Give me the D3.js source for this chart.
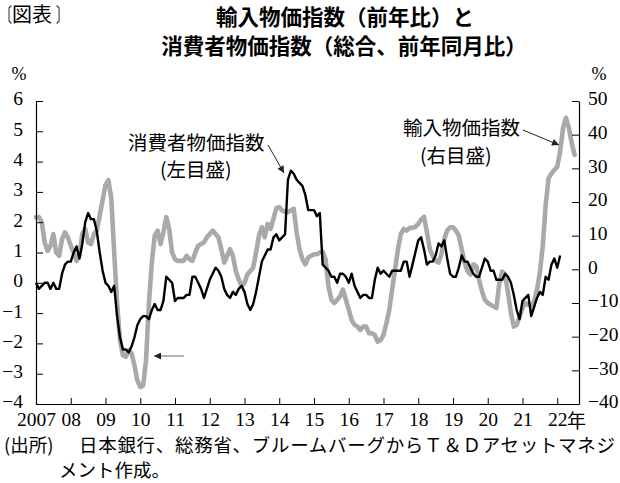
<!DOCTYPE html>
<html><head><meta charset="utf-8">
<script src="https://cdn.jsdelivr.net/npm/d3@7"></script>
<style>
body{margin:0;background:#fff;}
svg{display:block;}
.serif{font-family:"Liberation Serif","DejaVu Serif",serif;}
.jp{font-family:"Noto Sans CJK JP","Noto Sans",sans-serif;}
</style></head>
<body>
<svg id="chart" width="620" height="483"></svg>
<script>
// ---- data (monthly, first value = Jan 2007) ----
const startYear = 2007;
const cpiValues = [
  0.0,-0.2,-0.1,0.0,0.0,-0.2,0.0,-0.2,-0.2,0.3,0.6,0.7,
  0.7,1.0,1.2,0.8,1.3,2.0,2.3,2.1,2.1,1.7,1.0,0.4,
  0.0,-0.1,-0.3,-0.1,-1.1,-1.8,-2.2,-2.2,-2.3,-2.1,-1.8,-1.4,
  -1.2,-1.1,-1.1,-1.2,-0.9,-0.7,-0.9,-0.9,-0.6,0.2,0.1,0.0,
  -0.6,-0.5,-0.5,-0.5,-0.4,-0.4,0.2,0.2,0.0,-0.2,-0.5,-0.2,
  0.1,0.3,0.5,0.4,0.2,-0.2,-0.4,-0.5,-0.3,-0.4,-0.2,-0.1,
  -0.3,-0.7,-0.9,-0.7,-0.3,0.2,0.7,0.9,1.1,1.1,1.5,1.6,
  1.4,1.5,1.6,3.4,3.7,3.6,3.4,3.3,3.2,2.9,2.4,2.4,
  2.4,2.2,2.3,0.6,0.5,0.4,0.2,0.2,0.0,0.3,0.3,0.2,
  0.0,0.3,-0.1,-0.3,-0.5,-0.4,-0.4,-0.5,-0.5,0.1,0.5,0.3,
  0.4,0.3,0.2,0.4,0.4,0.4,0.4,0.7,0.7,0.2,0.6,1.0,
  1.4,1.5,1.1,0.6,0.7,0.7,0.9,1.3,1.2,1.4,0.8,0.3,
  0.2,0.2,0.5,0.9,0.7,0.7,0.5,0.3,0.2,0.2,0.5,0.8,
  0.7,0.4,0.4,0.1,0.1,0.1,0.3,0.2,0.0,-0.4,-0.9,-1.2,
  -0.6,-0.5,-0.4,-1.1,-0.8,-0.5,-0.3,-0.4,0.2,0.1,0.6,0.8,
  0.5,0.9
];
const importValues = [
  15.5,15.5,14,8,5.5,7,10.5,5,4,9,11,9.5,
  7,5,2.5,4,10.5,12,8,7.5,10.5,11.5,16,20.5,
  25,26.5,21,5,-10,-21,-25.5,-26,-24,-25,-28.5,-33,
  -35,-34.5,-27,-10,2,10,11.5,7.5,11,15.5,12,5,
  3,2.5,2.5,2.5,4,3,2.5,5,7,7.5,8,9.5,
  10.5,11.5,10.5,9.5,6,2,4,6,4,-0.5,-3,-5,
  -4,-1.5,-0.5,0.5,5,10,12.5,9.5,13.5,12,15,18.2,
  18.5,17.5,17,17,17.5,18,11,6,3,1.5,3.5,4,
  4.5,4.5,5,5.2,3,-5,-9,-10,-9,-8,-6,-9,
  -12,-15,-16.5,-17,-18,-17,-17,-19,-19,-19.5,-21.5,-21,
  -19.5,-16,-12,-6,0,6,10.5,12,11.5,12.3,12.3,12.6,
  13.5,14.8,15.6,11,6,4,2.5,2,4.5,9,11.5,12.5,
  12.5,11.5,10,6,2,-0.5,-1.5,1.5,1,-3,-6.5,-9,
  -10,-10.5,-11,-11.5,-4,-0.7,-1.5,-7,-13,-17,-16.5,-14,
  -11.5,-10,-10.5,-11,-9.5,-6,-1,7,19,27,28.5,29.5,
  30.5,35,42,45,42,37.5,34
];
const yearTicks = [2007,2008,2009,2010,2011,2012,2013,2014,2015,2016,2017,2018,2019,2020,2021,2022];
const leftTicks = [-4,-3,-2,-1,0,1,2,3,4,5,6];
const rightTicks = [-40,-30,-20,-10,0,10,20,30,40,50];

// ---- layout ----
const svg = d3.select("#chart");
const L = 36, R = 579, T = 101, B = 404;
const x = d3.scaleLinear().domain([2007, 2022.626]).range([L, R]);
const yL = d3.scaleLinear().domain([-4, 6]).range([B, T]);
const yR = d3.scaleLinear().domain([-40, 50]).range([B, T]);
const toT = i => startYear + i / 12;

// lines
const lineR = d3.line().x((d,i)=>x(toT(i))).y(d=>yR(d));
const lineL = d3.line().x((d,i)=>x(toT(i))).y(d=>yL(d));
svg.append("path").datum(importValues).attr("d", lineR)
  .attr("fill","none").attr("stroke","#a9a9a9").attr("stroke-width",4.6)
  .attr("stroke-linejoin","round").attr("stroke-linecap","round");
svg.append("path").datum(cpiValues).attr("d", lineL)
  .attr("fill","none").attr("stroke","#000").attr("stroke-width",2.4)
  .attr("stroke-linejoin","round");

// axes
const gL = svg.append("g").attr("transform",`translate(${L},0)`)
  .call(d3.axisLeft(yL).tickValues(leftTicks).tickSizeInner(-7).tickSizeOuter(0).tickPadding(13).tickFormat(d3.format("d")));
const gR = svg.append("g").attr("transform",`translate(${R},0)`)
  .call(d3.axisRight(yR).tickValues(rightTicks).tickSizeInner(-7).tickSizeOuter(0).tickPadding(9).tickFormat(d3.format("d")));
const gB = svg.append("g").attr("transform",`translate(0,${B})`)
  .call(d3.axisBottom(x).tickValues(yearTicks).tickSizeInner(-6).tickSizeOuter(0).tickPadding(8)
    .tickFormat(d => d === 2007 ? "2007" : String(d % 100).padStart(2,"0")));
[gL,gR,gB].forEach(g=>{
  g.selectAll("path.domain").attr("stroke","#000").attr("stroke-width",1.2);
  g.selectAll(".tick line").attr("stroke","#000").attr("stroke-width",1);
  g.selectAll("text").attr("class","serif").attr("font-size",19.5).attr("fill","#000");
});
gL.selectAll("text").attr("dy","0.2em");
gR.selectAll("text").attr("dy","0.2em");
gB.selectAll(".tick").filter(d=>d===2007).select("line").remove();

// text
const jp = (t, xx, yy, size, opts={}) => {
  const e = svg.append("text").attr("class","jp").attr("x",xx).attr("y",yy)
    .attr("font-size",size).attr("fill","#000").text(t);
  if (opts.anchor) e.attr("text-anchor",opts.anchor);
  if (opts.weight) e.attr("font-weight",opts.weight);
  if (opts.len) e.attr("textLength",opts.len).attr("lengthAdjust","spacing");
  return e;
};
// 〔図表〕: brackets narrowed horizontally so they sit tight as in the reference
svg.append("text").attr("class","jp").attr("font-size",20).attr("fill","#000")
  .attr("transform","translate(0,22) scale(0.6,1)").text("〔");
jp("図表", 12, 22, 20);
svg.append("text").attr("class","jp").attr("font-size",20).attr("fill","#000")
  .attr("transform","translate(56,22) scale(0.6,1)").text("〕");

jp("輸入物価指数（前年比）と", 345, 25, 21.5, {anchor:"middle", weight:"bold"});
jp("消費者物価指数（総合、前年同月比）", 344, 54, 21.5, {anchor:"middle", weight:"bold"});
jp("年", 567, 428, 19);
jp("(出所)", 4, 452, 18.5);
jp("日本銀行、総務省、ブルームバーグからＴ＆Ｄアセットマネジ", 79, 452, 18.5, {len: 536});
jp("メント作成。", 59, 477, 18.5);

svg.append("text").attr("class","serif").attr("x",19).attr("y",80).attr("font-size",18).attr("text-anchor","middle").text("%");
svg.append("text").attr("class","serif").attr("x",599).attr("y",80).attr("font-size",18).attr("text-anchor","middle").text("%");

jp("消費者物価指数", 128, 150, 19.5);
jp("(左目盛)", 160, 177, 19.5);
jp("輸入物価指数", 403, 135, 19.5);
jp("(右目盛)", 420, 163, 19.5);

// arrows
const defs = svg.append("defs");
defs.append("marker").attr("id","ah").attr("viewBox","0 0 10 10").attr("refX",10).attr("refY",5)
  .attr("markerWidth",9).attr("markerHeight",7).attr("markerUnits","userSpaceOnUse").attr("orient","auto")
  .append("path").attr("d","M0,0 L10,5 L0,10 z").attr("fill","#222");
const arrow = (x1,y1,x2,y2,col) => svg.append("line").attr("x1",x1).attr("y1",y1).attr("x2",x2).attr("y2",y2)
  .attr("stroke",col).attr("stroke-width",1).attr("marker-end","url(#ah)");
arrow(268,145,284,173,"#222");
arrow(523,130,559,145,"#222");
arrow(184,356,154,356,"#666");
</script>
</body></html>
